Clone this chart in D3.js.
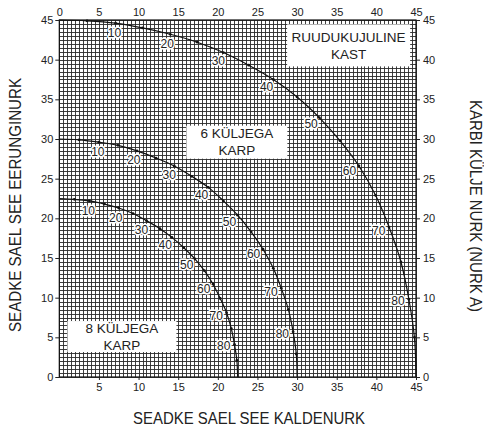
<!DOCTYPE html>
<html>
<head>
<meta charset="utf-8">
<script src="https://cdn.jsdelivr.net/npm/d3@7"></script>
<style>
  body { margin: 0; background: #fff; }
  text { font-family: "Liberation Sans", Arial, sans-serif; fill: #222; }
  .title { font-family: "Liberation Sans Narrow", "Liberation Sans", Arial, sans-serif; }
</style>
</head>
<body>
<div id="chart"></div>
<script>
// side angle of the box (Nurk A), every 5 degrees
var sideAngles = [0, 5, 10, 15, 20, 25, 30, 35, 40, 45, 50, 55, 60, 65, 70, 75, 80, 85, 90];
var labelAngles = [10, 20, 30, 40, 50, 60, 70, 80];

// blade tilt (kaldenurk) and miter (eerunginurk)
var squareTilt  = [0, 3.5, 7.1, 10.5, 14.0, 17.4, 20.7, 23.9, 27.0, 30.0, 32.8, 35.4, 37.8, 39.9, 41.6, 43.1, 44.1, 44.8, 45.0];
var squareMiter = [45.0, 44.9, 44.6, 44.0, 43.2, 42.2, 40.9, 39.3, 37.5, 35.3, 32.7, 29.8, 26.6, 22.9, 18.9, 14.5, 9.8, 5.0, 0];
var hexTilt     = [0, 2.5, 5.0, 7.4, 9.8, 12.2, 14.5, 16.7, 18.8, 20.7, 22.5, 24.2, 25.7, 27.0, 28.0, 28.9, 29.5, 29.9, 30.0];
var hexMiter    = [30.0, 29.9, 29.6, 29.2, 28.5, 27.6, 26.6, 25.3, 23.9, 22.2, 20.4, 18.3, 16.1, 13.7, 11.2, 8.5, 5.7, 2.9, 0];
var octTilt     = [0, 1.9, 3.8, 5.7, 7.5, 9.3, 11.0, 12.7, 14.2, 15.7, 17.1, 18.3, 19.4, 20.3, 21.1, 21.7, 22.1, 22.4, 22.5];
var octMiter    = [22.5, 22.4, 22.2, 21.8, 21.3, 20.6, 19.7, 18.7, 17.6, 16.3, 14.9, 13.4, 11.7, 9.9, 8.1, 6.1, 4.1, 2.1, 0];

var tickValues = [0, 5, 10, 15, 20, 25, 30, 35, 40, 45];
var bottomTicks = [5, 10, 15, 20, 25, 30, 35, 40, 45];

var boxLabels = [
    { lines: ["RUUDUKUJULINE", "KAST"], at: [36.5, 41.8], w: 123, h: 42 },
    { lines: ["6 KÜLJEGA", "KARP"], at: [22.4, 29.6], w: 101, h: 33 },
    { lines: ["8 KÜLJEGA", "KARP"], at: [7.9, 5.1], w: 109, h: 31 }
];

var xTitle = "SEADKE SAEL SEE KALDENURK";
var yTitle = "SEADKE SAEL SEE EERUNGINURK";
var y2Title = "KARBI KÜLJE NURK (NURK A)";

var width = 484, height = 428;
var plotLeft = 59.3, plotRight = 416, plotTop = 20, plotBottom = 377;

var svg = d3.select("#chart").append("svg")
    .attr("width", width)
    .attr("height", height);

var x = d3.scaleLinear().domain([0, 45]).range([plotLeft, plotRight]);
var y = d3.scaleLinear().domain([0, 45]).range([plotBottom, plotTop]);

// dense grid, every half unit
var grid = d3.range(0, 45.01, 0.5);
var gridG = svg.append("g").attr("shape-rendering", "crispEdges");
gridG.selectAll("line.v").data(grid).enter().append("line")
    .attr("class", "v")
    .attr("x1", function (d) { return Math.round(x(d)) + 0.5; })
    .attr("x2", function (d) { return Math.round(x(d)) + 0.5; })
    .attr("y1", plotTop).attr("y2", plotBottom)
    .attr("stroke", "#2a2a2a").attr("stroke-width", 0.9);
gridG.selectAll("line.h").data(grid).enter().append("line")
    .attr("class", "h")
    .attr("y1", function (d) { return Math.round(y(d)) + 0.5; })
    .attr("y2", function (d) { return Math.round(y(d)) + 0.5; })
    .attr("x1", plotLeft).attr("x2", plotRight)
    .attr("stroke", "#2a2a2a").attr("stroke-width", 0.9);

// white boxes for the box type names
boxLabels.forEach(function (b) {
    var cx = x(b.at[0]), cy = y(b.at[1]);
    svg.append("rect")
        .attr("x", cx - b.w / 2).attr("y", cy - b.h / 2)
        .attr("width", b.w).attr("height", b.h)
        .attr("fill", "#fff");
    svg.append("text")
        .attr("x", cx).attr("y", cy - 8.5)
        .attr("dy", "0.35em")
        .attr("text-anchor", "middle")
        .style("font-size", "13.5px")
        .text(b.lines[0]);
    svg.append("text")
        .attr("x", cx).attr("y", cy + 8.5)
        .attr("dy", "0.35em")
        .attr("text-anchor", "middle")
        .style("font-size", "13.5px")
        .text(b.lines[1]);
});

var curves = [
    { tilt: squareTilt, miter: squareMiter },
    { tilt: hexTilt, miter: hexMiter },
    { tilt: octTilt, miter: octMiter }
];

var line = d3.line()
    .x(function (d) { return x(d.t); })
    .y(function (d) { return y(d.m); })
    .curve(d3.curveCatmullRom);

curves.forEach(function (c) {
    var pts = sideAngles.map(function (a, i) {
        return { a: a, t: c.tilt[i], m: c.miter[i] };
    });
    svg.append("path")
        .datum(pts)
        .attr("d", line)
        .attr("fill", "none")
        .attr("stroke", "#111")
        .attr("stroke-width", 1.2);
    svg.selectAll(null)
        .data(pts.slice(1, -1))
        .enter().append("circle")
        .attr("cx", function (d) { return x(d.t); })
        .attr("cy", function (d) { return y(d.m); })
        .attr("r", 1.4)
        .attr("fill", "#111");

    var lbl = pts.filter(function (d) { return labelAngles.indexOf(d.a) >= 0; });
    svg.selectAll(null)
        .data(lbl)
        .enter().append("text")
        .attr("x", function (d) { return x(d.t) - 12 * Math.sin(d.a * Math.PI / 180) + 1; })
        .attr("y", function (d) { return y(d.m) + 10 * Math.cos(d.a * Math.PI / 180); })
        .attr("dy", "0.35em")
        .attr("text-anchor", "middle")
        .style("font-size", "12px")
        .style("paint-order", "stroke")
        .style("stroke", "#fff")
        .style("stroke-width", "3px")
        .style("stroke-linejoin", "round")
        .text(function (d) { return d.a; });
});

// frame
svg.append("rect")
    .attr("x", plotLeft).attr("y", plotTop)
    .attr("width", plotRight - plotLeft).attr("height", plotBottom - plotTop)
    .attr("fill", "none").attr("stroke", "#111").attr("stroke-width", 1.2);

// axes
function styleAxis(g) {
    g.select(".domain").remove();
    g.selectAll(".tick line").attr("stroke", "#222");
    g.selectAll(".tick text").style("font-size", "11px").attr("fill", "#222");
}

svg.append("g")
    .attr("transform", "translate(0," + plotTop + ")")
    .call(d3.axisTop(x).tickValues(tickValues).tickSize(0).tickPadding(4))
    .call(styleAxis);

svg.append("g")
    .attr("transform", "translate(0," + plotBottom + ")")
    .call(d3.axisBottom(x).tickValues(bottomTicks).tickSize(3).tickPadding(3))
    .call(styleAxis);

svg.append("g")
    .attr("transform", "translate(" + plotLeft + ",0)")
    .call(d3.axisLeft(y).tickValues(tickValues).tickSize(4).tickPadding(2))
    .call(styleAxis);

svg.append("g")
    .attr("transform", "translate(" + plotRight + ",0)")
    .call(d3.axisRight(y).tickValues(tickValues).tickSize(4).tickPadding(3))
    .call(styleAxis);

// titles
svg.append("text")
    .attr("class", "title")
    .attr("x", 249).attr("y", 418)
    .attr("dy", "0.35em")
    .attr("text-anchor", "middle")
    .attr("textLength", 232)
    .attr("lengthAdjust", "spacingAndGlyphs")
    .style("font-size", "16px")
    .text(xTitle);

svg.append("text")
    .attr("class", "title")
    .attr("transform", "translate(15,205) rotate(-90)")
    .attr("dy", "0.35em")
    .attr("text-anchor", "middle")
    .attr("textLength", 254)
    .attr("lengthAdjust", "spacingAndGlyphs")
    .style("font-size", "17px")
    .text(yTitle);

svg.append("text")
    .attr("class", "title")
    .attr("transform", "translate(476,206) rotate(90)")
    .attr("dy", "0.35em")
    .attr("text-anchor", "middle")
    .attr("textLength", 212)
    .attr("lengthAdjust", "spacingAndGlyphs")
    .style("font-size", "17px")
    .text(y2Title);
</script>
</body>
</html>
